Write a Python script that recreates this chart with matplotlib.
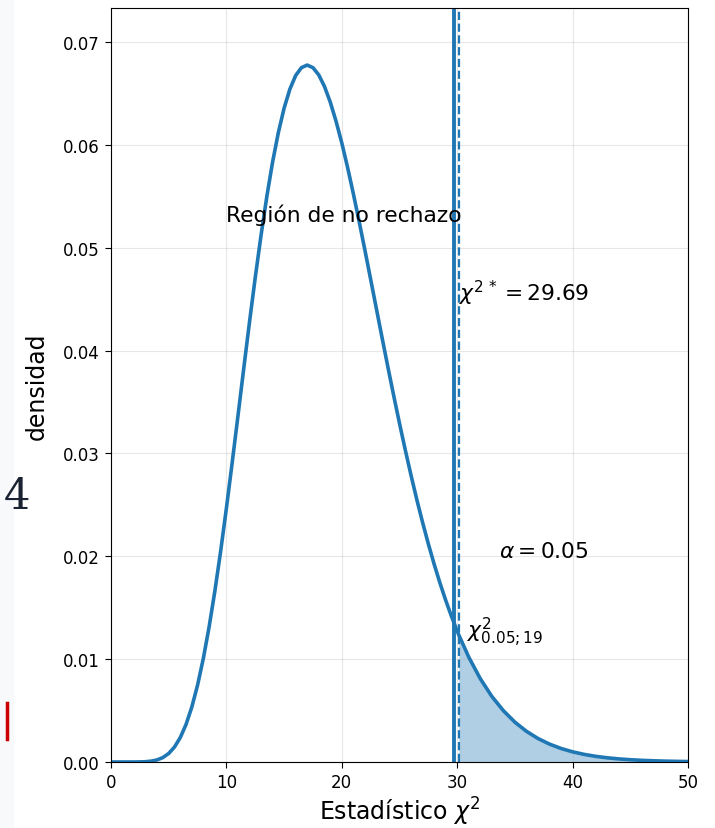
import matplotlib
matplotlib.use("Agg")
import matplotlib.pyplot as plt
from matplotlib.lines import Line2D
from matplotlib.patches import Rectangle

# density of the statistic
x = [0, 1, 2, 2.5, 3, 3.5, 4, 4.5, 5, 5.5, 6, 6.5, 7, 7.5, 8, 8.5, 9, 9.5,
     10, 10.5, 11, 11.5, 12, 12.5, 13, 13.5, 14, 14.5, 15, 15.5, 16, 16.5,
     17, 17.5, 18, 18.5, 19, 19.5, 20, 20.5, 21, 21.5, 22, 22.5, 23, 23.5,
     24, 24.5, 25, 25.5, 26, 26.5, 27, 27.5, 28, 28.5, 29, 29.5, 30, 30.14,
     31, 32, 33, 34, 35, 36, 37, 38, 39, 40, 41, 42, 43, 44, 45, 46, 47, 48,
     49, 50]
dens = [0.0, 0.0, 0.0000015, 0.000008, 0.0000294, 0.0000848, 0.000205,
        0.000435, 0.00083, 0.001453, 0.00237, 0.003647, 0.00533, 0.007465,
        0.01006, 0.01312, 0.01661, 0.02048, 0.02467, 0.02909, 0.03363,
        0.03823, 0.04275, 0.0471, 0.05119, 0.05495, 0.05831, 0.06118,
        0.06356, 0.06541, 0.06673, 0.0675, 0.06775, 0.0675, 0.0668, 0.06567,
        0.06415, 0.0623, 0.06018, 0.05781, 0.05525, 0.05256, 0.04977,
        0.04692, 0.04405, 0.04119, 0.03836, 0.0356, 0.03292, 0.03034,
        0.02787, 0.02551, 0.02329, 0.0212, 0.01924, 0.01742, 0.01573,
        0.01417, 0.01273, 0.01235, 0.0102, 0.0081, 0.00638, 0.00499,
        0.003873, 0.002985, 0.002285, 0.001739, 0.001315, 0.000989,
        0.00074, 0.000551, 0.000408, 0.000301, 0.000221, 0.000162,
        0.000118, 0.0000853, 0.0000617, 0.0000444]

stat = 29.69       # observed statistic
crit = 30.14       # critical value chi2_{0.05;19}
alpha = 0.05

fig = plt.figure(figsize=(7.15, 8.29), dpi=100)
# page strip and marks around the figure
fig.patches.append(Rectangle((0, 0), 13 / 715, 1, transform=fig.transFigure,
                             color='#f7f9fb', zorder=0))
fig.text(4 / 715, 1 - 497 / 829, '4', fontsize=30, family='DejaVu Serif',
         color='#1b2333', va='center', ha='left')
fig.add_artist(Line2D([7 / 715, 7 / 715], [1 - 704 / 829, 1 - 740 / 829],
                      color='#cc0000', lw=2.5, transform=fig.transFigure))

ax = fig.add_axes([111 / 715, 1 - 763 / 829, 577 / 715, 754 / 829])

ax.plot(x, dens, color='C0', lw=2.6)
xs = [v for v in x if v >= crit]
ys = [d for v, d in zip(x, dens) if v >= crit]
ax.fill_between(xs, ys, color='C0', alpha=0.35, lw=0)
ax.axvline(stat, color='C0', lw=2.8)
ax.axvline(crit, color='C0', lw=1.6, ls='--')

ax.text(10, 0.0526, 'Región de no rechazo', fontsize=15.7)
ax.text(crit, 0.0449, r'$\chi^{2\,*} = 29.69$', fontsize=15.7)
ax.text(33.6, 0.0199, r'$\alpha = 0.05$', fontsize=15.7)
ax.text(crit + 0.7, 0.0121, r'$\chi^2_{0.05;19}$', fontsize=15.7)

ax.set_xlim(0, 50)
ax.set_ylim(0, 0.0733)
ax.set_yticks([0, 0.01, 0.02, 0.03, 0.04, 0.05, 0.06, 0.07])
ax.set_yticklabels(['0.00', '0.01', '0.02', '0.03', '0.04', '0.05', '0.06', '0.07'])
ax.tick_params(labelsize=12, length=4.5)
ax.grid(True, alpha=0.3)
ax.set_xlabel(r'Estadístico $\chi^2$', fontsize=17)
ax.set_ylabel('densidad', fontsize=17)
ax.yaxis.set_label_coords(-0.128, 0.5)
ax.xaxis.set_label_coords(0.5, -0.065)
ax.xaxis.label.set_va('center')
ax.yaxis.label.set_va('center')

fig.savefig('out.png', dpi=100)
